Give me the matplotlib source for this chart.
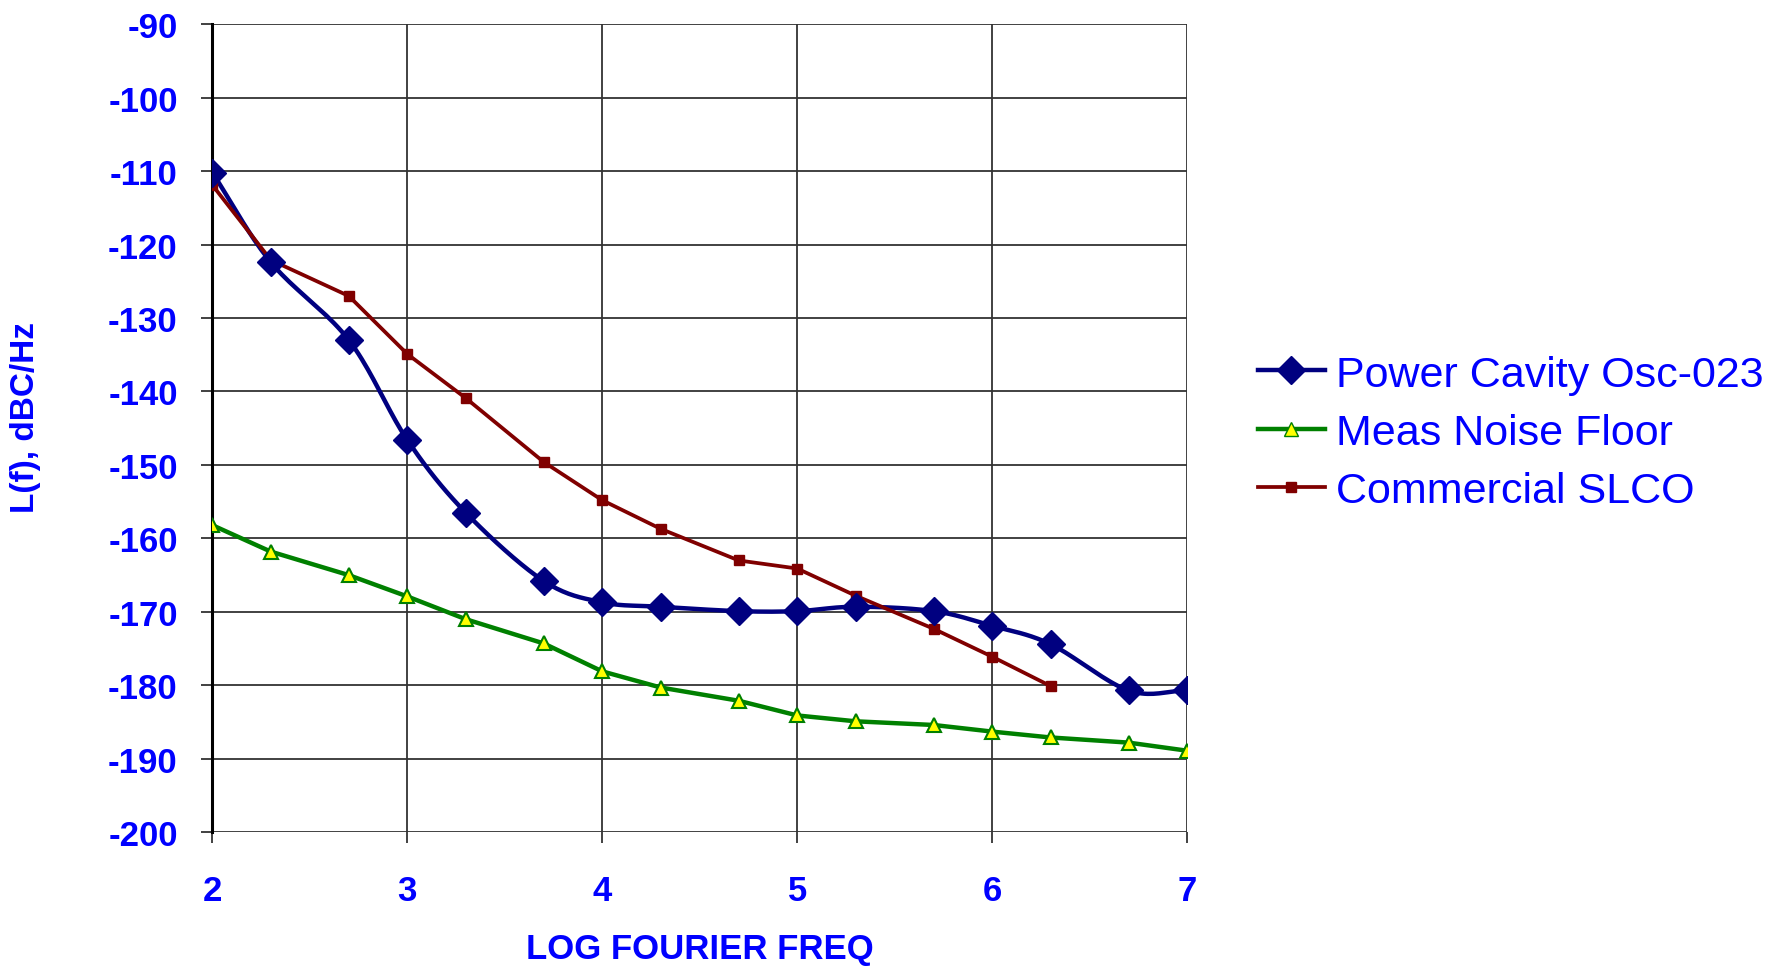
import numpy as np
import matplotlib
matplotlib.use("Agg")
import matplotlib.pyplot as plt

# log10 of Fourier frequency
log_freq = [2, 2.3, 2.7, 3, 3.3, 3.7, 4, 4.3, 4.7, 5, 5.3, 5.7, 6, 6.3, 6.7, 7]

power_cavity = [-110.2, -122.4, -133.0, -146.6, -156.5, -165.8, -168.7, -169.3,
                -169.9, -169.9, -169.3, -169.9, -171.9, -174.4, -180.7, -180.7]
noise_floor = [-158.2, -161.8, -165.0, -167.9, -171.0, -174.3, -178.1, -180.3,
               -182.1, -184.1, -184.9, -185.4, -186.3, -187.1, -187.8, -188.9]
commercial_slco = [-111.9, -122.1, -127.0, -134.9, -140.9, -149.6, -154.8,
                   -158.7, -163.0, -164.1, -167.8, -172.3, -176.1, -180.1]

labels = ["Power Cavity Osc-023", "Meas Noise Floor", "Commercial SLCO"]
y_ticks = list(range(-200, -89, 10))
x_ticks = [2, 3, 4, 5, 6, 7]

TXT = "#0000FF"
plt.rcParams['font.family'] = ['Liberation Sans', 'DejaVu Sans']
plt.rcParams['axes.unicode_minus'] = False


def smooth(x, y, n=20):
    # catmull-rom through the points, like excel's "smoothed line"
    x = np.asarray(x, float)
    y = np.asarray(y, float)
    px = np.concatenate(([2 * x[0] - x[1]], x, [2 * x[-1] - x[-2]]))
    py = np.concatenate(([2 * y[0] - y[1]], y, [2 * y[-1] - y[-2]]))
    t = np.linspace(0, 1, n, endpoint=False)
    xs, ys = [], []
    for i in range(1, len(px) - 2):
        for p, out in ((px, xs), (py, ys)):
            p0, p1, p2, p3 = p[i - 1], p[i], p[i + 1], p[i + 2]
            out.extend(0.5 * (2 * p1 + (-p0 + p2) * t
                              + (2 * p0 - 5 * p1 + 4 * p2 - p3) * t ** 2
                              + (-p0 + 3 * p1 - 3 * p2 + p3) * t ** 3))
    xs.append(x[-1])
    ys.append(y[-1])
    return np.array(xs), np.array(ys)


fig = plt.figure(figsize=(17.77, 9.70), dpi=100)
ax = fig.add_axes([0.1195, 0.141, 0.5485, 0.833])

sx, sy = smooth(log_freq, power_cavity)
ax.plot(sx, sy, color="#000080", lw=3.2, zorder=4)
ax.plot(log_freq, power_cavity, ls="none", marker="D", ms=14, color="#000080", zorder=5)
ax.plot(log_freq, noise_floor, color="#008000", lw=3.2, marker="^", ms=10,
        mfc="#FFFF00", mec="#008000", mew=1.5, zorder=4)
ax.plot(log_freq[:len(commercial_slco)], commercial_slco, color="#800000", lw=2.7,
        marker="s", ms=6.5, zorder=4)

# legend handles (line + marker)
h1, = ax.plot([], [], color="#000080", lw=3.2, marker="D", ms=14)
h2, = ax.plot([], [], color="#008000", lw=3.2, marker="^", ms=10, mfc="#FFFF00", mec="#008000")
h3, = ax.plot([], [], color="#800000", lw=2.7, marker="s", ms=6.5)
leg = ax.legend([h1, h2, h3], labels, loc="center left", bbox_to_anchor=(0.708, 0.553),
                bbox_transform=fig.transFigure, frameon=False, fontsize=31,
                handlelength=1.55, handletextpad=0.25, labelspacing=0.42,
                borderaxespad=0, borderpad=0)
for t in leg.get_texts():
    t.set_color(TXT)

ax.set_xlim(2, 7)
ax.set_ylim(-200, -90)
ax.set_xticks(x_ticks)
ax.set_yticks(y_ticks)
ax.grid(True, color="#333333", lw=1.3)
ax.set_axisbelow(True)
for s in ["top", "right", "bottom"]:
    ax.spines[s].set_visible(False)
ax.spines["left"].set_linewidth(2.2)
ax.spines["left"].set_zorder(3)
ax.tick_params(axis="both", colors="#333333", labelcolor=TXT, labelsize=25, width=1.3, length=8)
ax.tick_params(axis="y", pad=17)
ax.tick_params(axis="x", pad=22)
for t in ax.get_xticklabels() + ax.get_yticklabels():
    t.set_fontweight("bold")

ax.set_xlabel("LOG FOURIER FREQ", fontsize=25, fontweight="bold", color=TXT, labelpad=18)
fig.text(0.0145, 0.57, "L(f), dBC/Hz", rotation=90, fontsize=24, fontweight="bold",
         color=TXT, ha="center", va="center")

fig.savefig("out.png", dpi=100)
